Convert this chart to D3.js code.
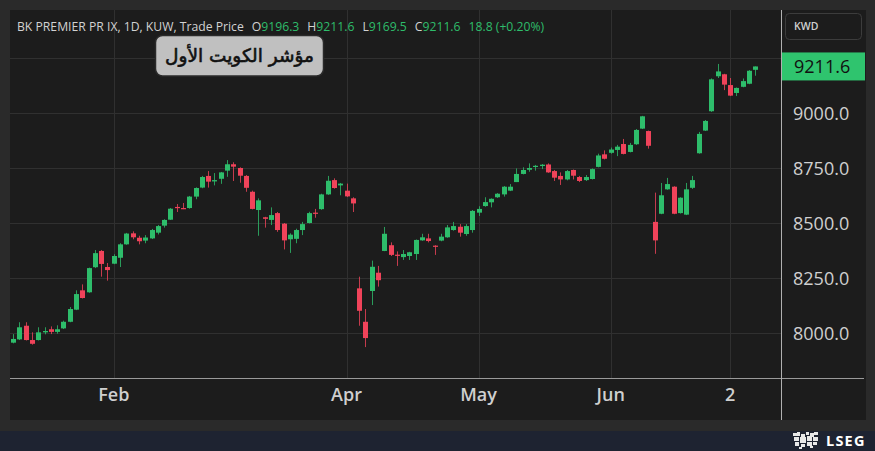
<!DOCTYPE html>
<html><head><meta charset="utf-8">
<script src="https://cdn.jsdelivr.net/npm/d3@7"></script>
<style>html,body{margin:0;padding:0;background:#2a2a2a;overflow:hidden}</style>
</head><body><svg id="c" width="875" height="451"></svg>
<script>
// ---- data ----
const opens  = [7956,7971,8033,7968,7968,8003,8017,8005,8021,8051,8106,8194,8185,8299,8373,8300,8315,8342,8403,8453,
 8433,8420,8430,8456,8488,8515,8573,8568,8568,8620,8661,8714,8689,8701,8738,8767,8750,8714,8642,8559,
 8526,8514,8545,8497,8426,8428,8468,8500,8547,8563,8630,8695,8671,8647,8612,8203,8051,8191,8274,8373,
 8399,8356,8345,8350,8359,8421,8430,8397,8420,8435,8468,8483,8450,8468,8547,8577,8594,8617,8630,8647,
 8686,8723,8742,8756,8759,8766,8736,8714,8698,8741,8709,8695,8700,8755,8812,8819,8832,8859,8823,8858,
 8929,8918,8505,8542,8653,8665,8545,8538,8660,8817,8920,9008,9167,9176,9127,9091,9119,9133,9196.3];
const highs  = [7995,8049,8049,8003,8026,8026,8030,8035,8056,8118,8194,8221,8297,8377,8377,8318,8358,8408,8455,8462,
 8442,8445,8473,8491,8517,8568,8586,8591,8623,8662,8714,8736,8727,8732,8786,8776,8753,8718,8647,8612,
 8528,8571,8550,8500,8453,8474,8505,8551,8564,8633,8714,8703,8682,8679,8617,8256,8109,8329,8305,8482,
 8412,8371,8377,8369,8425,8451,8451,8399,8451,8491,8505,8495,8495,8559,8576,8617,8612,8636,8668,8677,
 8748,8753,8771,8764,8768,8771,8741,8730,8741,8743,8714,8718,8748,8815,8830,8843,8855,8882,8864,8927,
 8987,8920,8638,8682,8705,8667,8617,8682,8714,8914,8968,9157,9223,9178,9159,9116,9157,9195,9211.6];
const lows   = [7953,7968,7966,7947,7966,7994,7995,7997,8018,8049,8104,8157,8183,8295,8256,8238,8313,8300,8401,8426,
 8403,8408,8427,8448,8479,8514,8550,8563,8565,8608,8658,8661,8671,8678,8710,8691,8683,8642,8562,8442,
 8479,8491,8460,8380,8364,8408,8445,8498,8524,8560,8628,8656,8626,8618,8550,8033,7936,8127,8211,8372,
 8350,8305,8332,8332,8332,8419,8412,8355,8417,8433,8465,8438,8442,8456,8532,8574,8571,8614,8620,8645,
 8686,8721,8733,8738,8745,8728,8691,8673,8694,8698,8686,8691,8698,8753,8789,8815,8804,8812,8821,8855,
 8927,8838,8360,8540,8651,8540,8543,8536,8655,8815,8918,9005,9159,9104,9077,9077,9117,9131,9169.5];
const closes = [7973,8026,7968,7951,8003,8009,8005,8017,8051,8109,8177,8159,8295,8363,8314,8286,8350,8403,8452,8435,
 8417,8434,8468,8486,8514,8565,8568,8564,8620,8659,8709,8688,8695,8730,8767,8756,8715,8660,8564,8603,
 8519,8536,8468,8421,8447,8468,8495,8545,8542,8630,8692,8659,8679,8621,8589,8101,7977,8301,8240,8451,
 8355,8351,8359,8367,8423,8435,8418,8392,8438,8480,8486,8456,8486,8555,8564,8595,8610,8633,8665,8665,
 8723,8741,8750,8760,8765,8730,8706,8698,8736,8715,8691,8709,8745,8807,8792,8834,8847,8814,8855,8923,
 8985,8851,8421,8626,8677,8542,8615,8653,8695,8905,8964,9153,9189,9129,9079,9114,9145,9192,9211.6];
const xTickIndex  = [16, 53, 74, 95, 114];
const xTickLabels = ["Feb", "Apr", "May", "Jun", "2"];
const yTicks = [8000, 8250, 8500, 8750, 9000, 9250];
const lastPrice = 9211.6;
const header = {name: "BK PREMIER PR IX, 1D, KUW, Trade Price", o: "9196.3", h: "9211.6", l: "9169.5", c: "9211.6", chg: "18.8 (+0.20%)"};
const currency = "KWD";
const annotation = "مؤشر الكويت الأول";

// ---- drawing ----
const n = opens.length;
const W = 875, H = 451;
const plot = {l: 10, t: 10, r: 781, b: 378};
const up = "#2ebd6b", dn = "#f0435a";
const svg = d3.select("#c");
const font = "'Open Sans', 'Noto Sans', sans-serif";

svg.append("rect").attr("width", W).attr("height", H).attr("fill", "#2a2a2a");
svg.append("rect").attr("x", 10).attr("y", 10).attr("width", 856).attr("height", 410).attr("fill", "#1c1c1c");
// footer
svg.append("rect").attr("x", 0).attr("y", 431).attr("width", W).attr("height", 20).attr("fill", "#1e2331");

const x = d3.scaleBand().domain(d3.range(n)).range([10, 10 + n * 6.29]).paddingInner(0.2).paddingOuter(0.1);
const y = d3.scaleLinear().domain([8000, 9000]).range([333, 113]);
const cx = i => x(i) + x.bandwidth() / 2;

const defs = svg.append("defs");
defs.append("clipPath").attr("id", "pc").append("rect")
  .attr("x", plot.l).attr("y", plot.t).attr("width", plot.r - plot.l).attr("height", plot.b - plot.t);
defs.append("clipPath").attr("id", "lc").append("rect")
  .attr("x", plot.r).attr("y", 40).attr("width", 90).attr("height", y(lastPrice) - 14 - 40);

const g = svg.append("g").attr("clip-path", "url(#pc)");
// grid
g.selectAll("line.hg").data(yTicks).join("line")
  .attr("x1", plot.l).attr("x2", plot.r).attr("y1", d => Math.round(y(d)) + 0.5).attr("y2", d => Math.round(y(d)) + 0.5)
  .attr("stroke", "#303030").attr("stroke-width", 1);
g.selectAll("line.vg").data(xTickIndex).join("line")
  .attr("x1", d => Math.round(cx(d)) + 0.5).attr("x2", d => Math.round(cx(d)) + 0.5).attr("y1", plot.t).attr("y2", plot.b)
  .attr("stroke", "#303030").attr("stroke-width", 1);

// candles
const idx = d3.range(n);
g.selectAll("line.wick").data(idx).join("line")
  .attr("x1", i => Math.round(cx(i)) + 0.5).attr("x2", i => Math.round(cx(i)) + 0.5)
  .attr("y1", i => y(highs[i])).attr("y2", i => y(lows[i]))
  .attr("stroke", i => closes[i] >= opens[i] ? up : dn).attr("stroke-opacity", 0.8).attr("stroke-width", 1);
g.selectAll("rect.body").data(idx).join("rect")
  .attr("x", i => Math.round(cx(i)) - 2).attr("width", 5)
  .attr("y", i => y(Math.max(opens[i], closes[i])))
  .attr("height", i => Math.max(1.2, Math.abs(y(opens[i]) - y(closes[i]))))
  .attr("fill", i => closes[i] >= opens[i] ? up : dn);

// separators
svg.append("line").attr("x1", 10).attr("x2", 864).attr("y1", 378.5).attr("y2", 378.5).attr("stroke", "#9a9a9a");
svg.append("line").attr("x1", 781.5).attr("x2", 781.5).attr("y1", 10).attr("y2", 420).attr("stroke", "#b0b0b0");

// y axis (the top tick is mostly hidden behind the last-price label, as in the reference)
const ya = svg.append("g").attr("transform", `translate(${plot.r},0)`)
  .call(d3.axisRight(y).tickValues(yTicks).tickFormat(d3.format(".1f")).tickSize(0).tickPadding(12));
ya.select(".domain").remove();
ya.selectAll("text").attr("fill", "#cfcfcf").attr("font-family", font).attr("font-size", 18).attr("dy", "0.34em");
ya.selectAll(".tick").filter(d => d > lastPrice).attr("clip-path", "url(#lc)");

// last price label
svg.append("rect").attr("x", 782).attr("y", y(lastPrice) - 14).attr("width", 83).attr("height", 28).attr("fill", "#2fc46e");
svg.append("text").attr("x", 794).attr("y", y(lastPrice)).attr("dy", "0.36em").attr("fill", "#111")
  .attr("font-family", font).attr("font-size", 18).text(d3.format(".1f")(lastPrice));

// currency box
svg.append("rect").attr("x", 785.5).attr("y", 13.5).attr("width", 76).attr("height", 26).attr("rx", 4)
  .attr("fill", "#1c1c1c").attr("stroke", "#3c3c3c");
svg.append("text").attr("x", 794).attr("y", 30).attr("fill", "#cfcfcf").attr("font-family", font)
  .attr("font-size", 10.5).attr("font-weight", 600).text(currency);

// x axis
const xa = svg.append("g").attr("transform", `translate(0,${plot.b})`)
  .call(d3.axisBottom(x).tickValues(xTickIndex).tickFormat((d, k) => xTickLabels[k]).tickSize(0).tickPadding(10));
xa.select(".domain").remove();
xa.selectAll("text").attr("fill", "#cfcfcf").attr("font-family", font).attr("font-size", 18).attr("font-weight", 600);

// header
const ht = svg.append("text").attr("x", 17).attr("y", 31).attr("font-family", font).attr("font-size", 12.2).attr("fill", "#d2d2d2");
ht.append("tspan").text(header.name);
[["O", header.o], ["H", header.h], ["L", header.l], ["C", header.c]].forEach(([k, v]) => {
  ht.append("tspan").attr("dx", 8).text(k);
  ht.append("tspan").attr("fill", up).text(v);
});
ht.append("tspan").attr("dx", 8).attr("fill", up).text(header.chg);

// annotation
svg.append("rect").attr("x", 155.5).attr("y", 35.5).attr("width", 168).attr("height", 40.5).attr("rx", 7)
  .attr("fill", "#c0c0c0").attr("stroke", "#2a2a2a").attr("stroke-width", 1.5);
svg.append("text").attr("x", 239.5).attr("y", 62).attr("text-anchor", "middle")
  .attr("font-family", "'DejaVu Sans', sans-serif").attr("font-size", 18.5)
  .attr("fill", "#111").attr("stroke", "#111").attr("stroke-width", 0.6).text(annotation);

// LSEG footer logo
const lg = svg.append("g").attr("fill", "#e8e8e8");
[[793,433,4,3],[797,432,3,4],[801,434,4,3],[806,432,3,3],[810,433,4,4],[814,432,4,3],[794,437,5,4],[800,437,6,6],
 [807,436,5,5],[813,437,5,4],[795,442,4,4],[801,444,4,3],[807,442,5,4],[813,442,4,3],[799,447,3,2],[810,446,3,2]]
 .forEach(([a, b, w, h]) => lg.append("rect").attr("x", a).attr("y", b).attr("width", w).attr("height", h));
svg.append("text").attr("x", 826).attr("y", 446).attr("fill", "#ffffff").attr("font-family", font)
  .attr("font-size", 14.5).attr("font-weight", 700).attr("letter-spacing", 1.2).text("LSEG");
</script></body></html>
